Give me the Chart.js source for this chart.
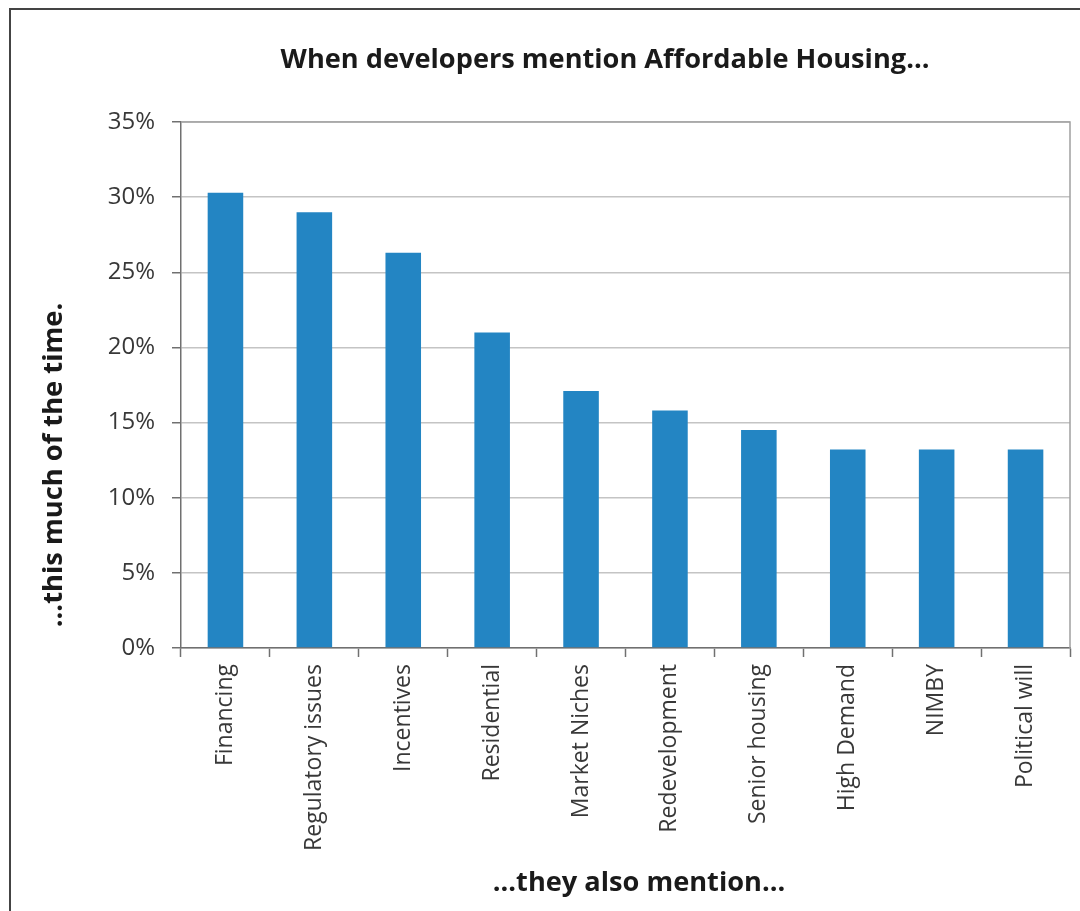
<!DOCTYPE html>
<html>
<head>
<meta charset="utf-8">
<script src="https://cdn.jsdelivr.net/npm/chart.js@4"></script>
<style>
  html, body { margin: 0; padding: 0; background: #fff; }
  #wrap { position: relative; width: 1080px; height: 911px; }
</style>
</head>
<body>
<div id="wrap"><canvas id="chart" width="1080" height="911"></canvas></div>
<script>
// categories and values (percent of time)
const categories = ['Financing', 'Regulatory issues', 'Incentives', 'Residential', 'Market Niches',
  'Redevelopment', 'Senior housing', 'High Demand', 'NIMBY', 'Political will'];
const shares = [30.3, 29.0, 26.3, 21.0, 17.1, 15.8, 14.5, 13.2, 13.2, 13.2];
const yTicks = [0, 5, 10, 15, 20, 25, 30, 35];

const titleText = 'When developers mention Affordable Housing...';
const yTitle = '...this much of the time.';
const xTitle = '...they also mention...';

const FONT = '"Open Sans", sans-serif';

// bold text squeezed to a given width (the original used a narrow face)
function boldText(c, text, x, y, width, rot) {
  c.save();
  c.font = 'bold 26px ' + FONT;
  const size = 26 * width / c.measureText(text).width;
  c.font = 'bold ' + size.toFixed(1) + 'px ' + FONT;
  c.translate(x, y);
  if (rot) c.rotate(rot);
  c.fillStyle = '#1a1a1a';
  c.textAlign = 'center';
  c.textBaseline = 'middle';
  c.fillText(text, 0, 0);
  c.restore();
}

// frame round the figure, plot border and titles
const framePlugin = {
  id: 'frame',
  beforeDraw(chart) {
    const c = chart.ctx;
    c.save();
    c.fillStyle = '#fff';
    c.fillRect(0, 0, chart.width, chart.height);
    c.strokeStyle = '#444';
    c.lineWidth = 2;
    c.beginPath();
    c.moveTo(10, chart.height + 5);
    c.lineTo(10, 9);
    c.lineTo(chart.width + 5, 9);
    c.stroke();
    c.restore();
  },
  afterDraw(chart) {
    const a = chart.chartArea;
    const c = chart.ctx;
    c.save();
    c.strokeStyle = '#a0a0a0';
    c.lineWidth = 1.5;
    c.beginPath();
    c.moveTo(a.left, a.top);
    c.lineTo(a.right, a.top);
    c.lineTo(a.right, a.bottom);
    c.stroke();
    c.restore();
    boldText(c, titleText, 605, 60, 650);
    boldText(c, xTitle, 639, 883, 292);
    boldText(c, yTitle, 54, 465, 324, -Math.PI / 2);
  }
};

new Chart(document.getElementById('chart'), {
  type: 'bar',
  data: {
    labels: categories,
    datasets: [{
      data: shares,
      backgroundColor: '#2385c3',
      borderWidth: 0,
      barPercentage: 0.4,
      categoryPercentage: 1.0
    }]
  },
  options: {
    responsive: false,
    animation: false,
    layout: { padding: { left: 20, right: 10, top: 122, bottom: 0 } },
    plugins: {
      legend: { display: false },
      tooltip: { enabled: false }
    },
    scales: {
      x: {
        grid: {
          offset: true,
          drawOnChartArea: false,
          drawTicks: true,
          tickLength: 9,
          tickColor: '#707070',
          tickWidth: 1.5
        },
        border: { color: '#707070', width: 1.5 },
        ticks: {
          color: '#383838',
          font: { family: FONT, size: 23 },
          minRotation: 90,
          maxRotation: 90,
          autoSkip: false,
          padding: 7
        },
        afterFit(s) { s.height = 263; }
      },
      y: {
        min: 0,
        max: 35,
        afterBuildTicks(s) { s.ticks = yTicks.map(v => ({ value: v })); },
        grid: {
          color: '#c4c4c4',
          lineWidth: 1.5,
          tickLength: 9,
          tickColor: '#707070',
          tickWidth: 1.5
        },
        border: { color: '#707070', width: 1.5 },
        ticks: {
          color: '#383838',
          font: { family: FONT, size: 24 },
          padding: 17,
          callback: v => v + '%'
        },
        afterFit(s) { s.width = 161; }
      }
    }
  },
  plugins: [framePlugin]
});
</script>
</body>
</html>
